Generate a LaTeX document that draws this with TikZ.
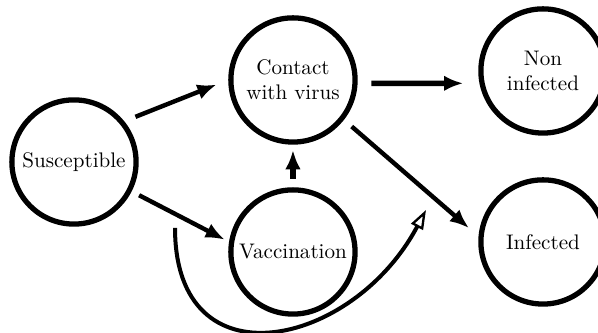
\documentclass[tikz,border=0pt]{standalone}
\usepackage{tikz}
\usetikzlibrary{arrows.meta}

\begin{document}
\begin{tikzpicture}[
  state/.style={draw, circle, line width=2.5pt, minimum size=2.07cm, inner sep=0pt, align=center},
  flow/.style={-{Latex[length=0.32cm,width=0.26cm]}, line width=2.1pt},
  bold flow/.style={flow, line width=2.6pt},
  bypass/.style={-{Triangle[open,length=0.32cm,width=0.22cm,line width=1.1pt]}, line width=1.9pt}
]
\useasboundingbox (0,0) rectangle (9.967,5.55);
\node [state] (sus) at (1.233,2.85) {Susceptible};
\node [state] (con) at (4.883,4.217) {Contact\\with virus};
\node [state] (vac) at (4.883,1.35) {Vaccination};
\node [state] (non) at (9.05,4.367) {Non\\infected};
\node [state] (inf) at (9.05,1.517) {Infected};
\coordinate (skip) at (2.917,1.75);
\coordinate (hit) at (7.1,2.05);

\draw [flow, shorten <=0.2cm, shorten >=0.21cm] (sus.39) -- (con.180);
\draw [flow, shorten <=0.14cm, shorten >=0.08cm] (sus.-27) -- (vac.171);
\draw [bold flow, shorten <=0.14cm, shorten >=0.09cm] (vac.north) -- (con.south);
\draw [bold flow, shorten <=0.23cm, shorten >=0.27cm] (con.-3) -- (non.191);
\draw [flow, shorten <=0.17cm, shorten >=0.21cm] (con.-38) -- (inf.175);
\draw [bypass] (skip) .. controls (2.917,-0.9) and (5.88,-0.246) .. (hit);

\end{tikzpicture}
\end{document}
